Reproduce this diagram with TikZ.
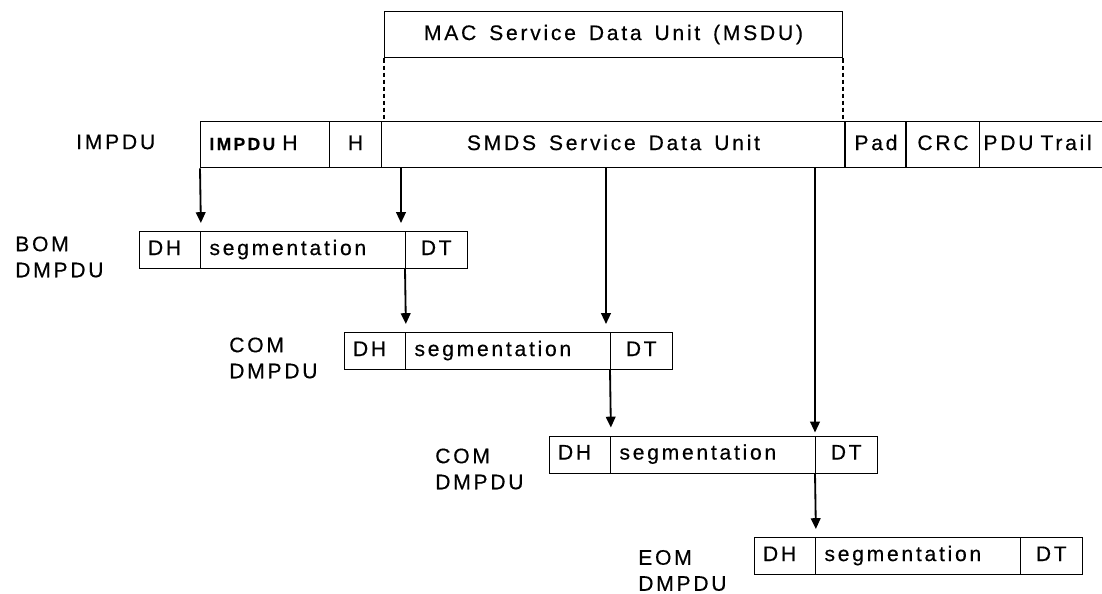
\documentclass[tikz,border=0pt]{standalone}
\usepackage{fontspec}
\setmainfont{Liberation Sans}[LetterSpace=13, WordSpace=1.5, FakeBold=0.4]
\usetikzlibrary{arrows.meta}
\usetikzlibrary{calc}

\begin{document}
\begin{tikzpicture}[
  font=\fontsize{15}{18.5}\selectfont,
  field/.style={draw, rectangle, anchor=west, inner sep=0pt, line width=0.7pt, text height=0.72em, text depth=0pt},
  pduf/.style={field, minimum height=1.15cm},
  dmf/.style={field, minimum height=0.925cm},
  lft/.style={text width=#1, align=left, inner xsep=0.225cm},
  lbl/.style={anchor=west, align=left, inner sep=0pt},
  feed/.style={line width=1.3pt, -{Triangle[length=0.27cm,width=0.24cm]}, shorten >=0.2cm},
  gap/.style={line width=1pt, dash pattern=on 3pt off 2pt}
]
\useasboundingbox (0,0) rectangle (27.55,14.85);

% MSDU
\node[pduf, minimum width=11.45cm] (msdu) at (9.6,13.975) {MAC Service Data Unit (MSDU)};

% IMPDU
\node[lbl] (limpdu) at (1.9,11.3) {IMPDU};
\node[pduf, lft=2.775cm] (ih) at (5.0,11.225) {{\fontsize{12.5}{12}\selectfont\bfseries IMPDU} H};
\node[pduf, minimum width=1.3cm] (hh) at (8.225,11.225) {H};
\node[pduf, minimum width=11.6cm] (smds) at (9.525,11.225) {SMDS Service Data Unit};
\node[pduf, minimum width=1.525cm] (pad) at (21.125,11.225) {Pad};
\node[pduf, minimum width=1.825cm] (crc) at (22.65,11.225) {CRC};
\node[pduf, lft=3.3cm, inner xsep=0.1cm] (trail) at (24.475,11.225) {PDU Trail};
\draw[line width=1.4pt] (pad.north west) -- (pad.south west);
\draw[line width=1.4pt] (crc.north west) -- (crc.south west);

\draw[gap] (msdu.south west) -- (msdu.south west |- smds.north);
\draw[gap] (msdu.south east) -- (msdu.south east |- smds.north);

% BOM
\node[lbl] (lbom) at (0.375,8.425) {BOM\\DMPDU};
\node[dmf, lft=1.0875cm] (bomdh) at (3.4625,8.6) {DH};
\node[dmf, lft=4.675cm] (bomseg) at (5.0,8.6) {segmentation};
\node[dmf, minimum width=1.5375cm] (bomdt) at (10.125,8.6) {DT};

% COM 1
\node[lbl] (lcoma) at (5.725,5.9) {COM\\DMPDU};
\node[dmf, lft=1.0875cm] (comadh) at (8.5875,6.075) {DH};
\node[dmf, lft=4.675cm] (comaseg) at (10.125,6.075) {segmentation};
\node[dmf, minimum width=1.5375cm] (comadt) at (15.25,6.075) {DT};

% COM 2
\node[lbl] (lcomb) at (10.875,3.125) {COM\\DMPDU};
\node[dmf, lft=1.0875cm] (combdh) at (13.7125,3.4875) {DH};
\node[dmf, lft=4.675cm] (combseg) at (15.25,3.4875) {segmentation};
\node[dmf, minimum width=1.5375cm] (combdt) at (20.375,3.4875) {DT};

% EOM
\node[lbl] (leom) at (15.95,0.5875) {EOM\\DMPDU};
\node[dmf, lft=1.0875cm] (eomdh) at (18.8375,0.95) {DH};
\node[dmf, lft=4.675cm] (eomseg) at (20.375,0.95) {segmentation};
\node[dmf, minimum width=1.5375cm] (eomdt) at (25.5,0.95) {DT};

% arrows
\draw[feed] (ih.south west) -- (bomdh.north east);
\draw[feed] ($(smds.south -| bomdt.north west)+(-0.1,0)$) -- ($(bomdt.north west)+(-0.1,0)$);
\draw[feed] (bomdt.south west) -- (comadh.north east);
\draw[feed] ($(smds.south -| comadt.north west)+(-0.1,0)$) -- ($(comadt.north west)+(-0.1,0)$);
\draw[feed, shorten >=0.075cm] (smds.south -| combdt.north west) -- (combdt.north west);
\draw[feed] (comadt.south west) -- (combdh.north east);
\draw[feed] (combdt.south west) -- (eomdh.north east);

\end{tikzpicture}
\end{document}
